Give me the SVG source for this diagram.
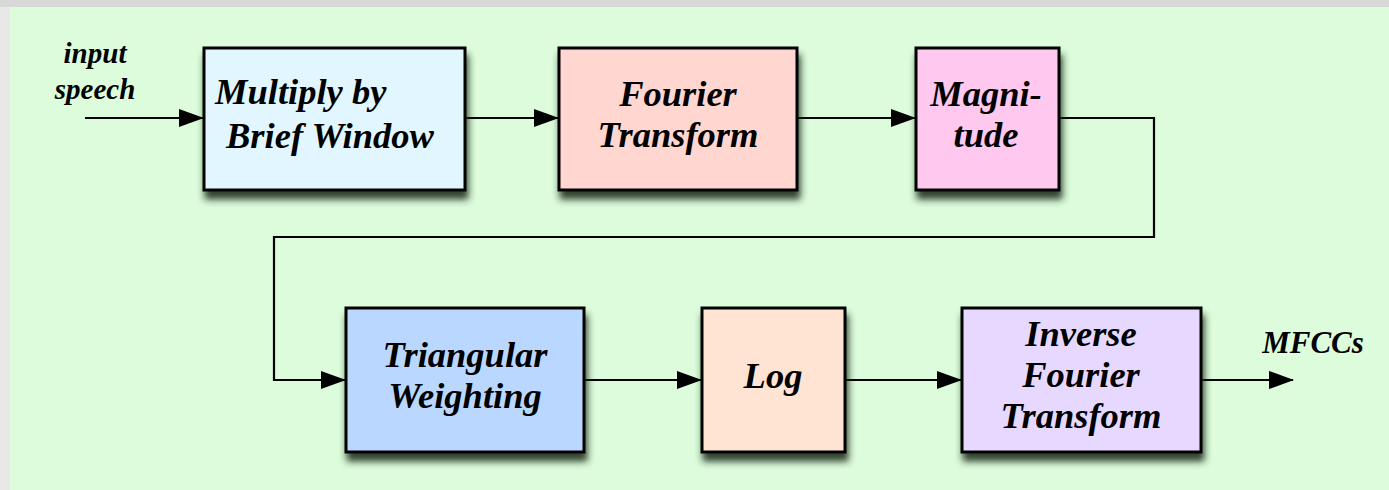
<svg xmlns="http://www.w3.org/2000/svg" width="1389" height="490" viewBox="0 0 1389 490">
<style>
.box{stroke:#000;stroke-width:3;}
.lbl{font-family:"Liberation Serif","Times New Roman",serif;font-weight:bold;font-style:italic;font-size:36.5px;fill:#000;text-anchor:middle;}
.sm{font-family:"Liberation Serif","Times New Roman",serif;font-weight:bold;font-style:italic;font-size:29px;fill:#000;text-anchor:middle;}
.wire{fill:none;stroke:#000;stroke-width:2.2;}
</style>
<defs>
<filter id="sh" x="-10%" y="-10%" width="130%" height="140%">
<feDropShadow dx="2" dy="8" stdDeviation="3.5" flood-color="#1f2e1f" flood-opacity="0.9"/>
</filter>
<marker id="ah" markerWidth="25" markerHeight="18" refX="24" refY="9" orient="auto" markerUnits="userSpaceOnUse">
<path d="M0,0 L25,9 L0,18 Z" fill="#000"/>
</marker>
</defs>
<rect x="0" y="0" width="1389" height="490" fill="#e8e8e8"/>
<rect x="0" y="0" width="1389" height="7" fill="#d8d8d8"/>
<rect x="10" y="7" width="1379" height="483" fill="#dcfcdb"/>

<g id="connectors">
<path class="wire" d="M85,118 H203" marker-end="url(#ah)"/>
<path class="wire" d="M465,118 H558" marker-end="url(#ah)"/>
<path class="wire" d="M797,118 H915" marker-end="url(#ah)"/>
<path class="wire" d="M1059,118 H1154 V237 H274 V380 H345" marker-end="url(#ah)"/>
<path class="wire" d="M584,380 H701" marker-end="url(#ah)"/>
<path class="wire" d="M845,380 H961" marker-end="url(#ah)"/>
<path class="wire" d="M1201,380 H1293" marker-end="url(#ah)"/>
</g>

<g id="input-label">
<text class="sm" x="95" y="63">input</text>
<text class="sm" x="95" y="99">speech</text>
</g>

<g id="multiply">
<rect class="box" x="204" y="48" width="261" height="142" fill="#e1f6ff" filter="url(#sh)"/>
<text class="lbl" x="215" y="104" style="text-anchor:start">Multiply by</text>
<text class="lbl" x="226" y="148" style="text-anchor:start">Brief Window</text>
</g>

<g id="fourier">
<rect class="box" x="559" y="48" width="238" height="142" fill="#ffd6d0" filter="url(#sh)"/>
<text class="lbl" x="678" y="106">Fourier</text>
<text class="lbl" x="678" y="147">Transform</text>
</g>

<g id="magnitude">
<rect class="box" x="916" y="48" width="143" height="142" fill="#ffc8ef" filter="url(#sh)"/>
<text class="lbl" x="986" y="106">Magni-</text>
<text class="lbl" x="986" y="147">tude</text>
</g>

<g id="triangular">
<rect class="box" x="346" y="308" width="238" height="144" fill="#bad8ff" filter="url(#sh)"/>
<text class="lbl" x="465" y="367">Triangular</text>
<text class="lbl" x="465" y="408">Weighting</text>
</g>

<g id="log">
<rect class="box" x="702" y="308" width="143" height="144" fill="#ffe4d4" filter="url(#sh)"/>
<text class="lbl" x="773" y="388">Log</text>
</g>

<g id="inverse">
<rect class="box" x="962" y="308" width="239" height="144" fill="#e6d8ff" filter="url(#sh)"/>
<text class="lbl" x="1081" y="346">Inverse</text>
<text class="lbl" x="1081" y="387">Fourier</text>
<text class="lbl" x="1081" y="428">Transform</text>
</g>

<g id="output-label">
<text class="lbl" x="1313" y="353" style="font-size:31px">MFCCs</text>
</g>
</svg>
